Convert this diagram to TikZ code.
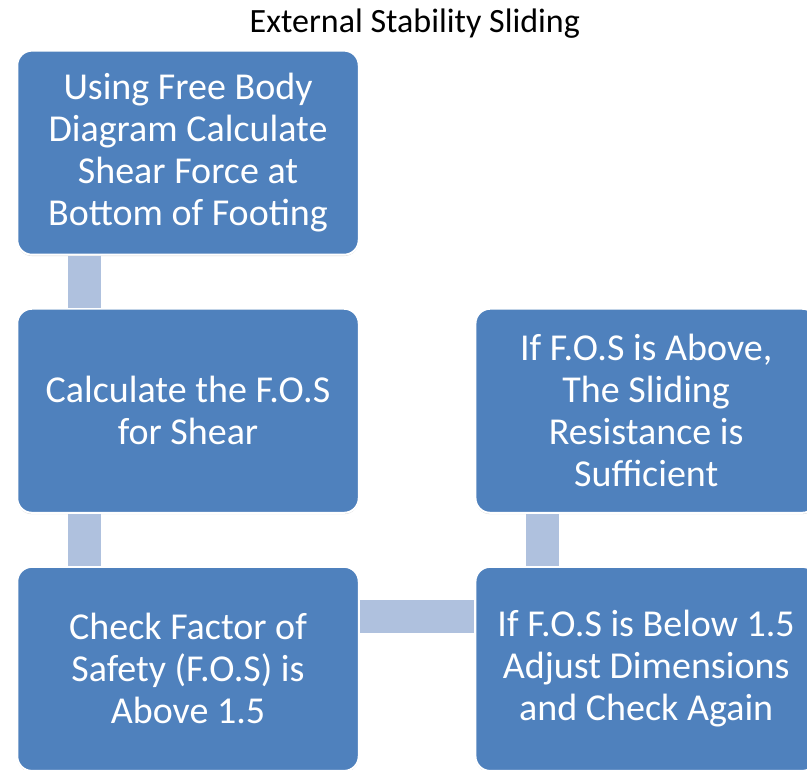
\documentclass[tikz,border=0pt]{standalone}
\usepackage{fontspec}
\setmainfont{Carlito}
\usetikzlibrary{matrix, shadows}
\definecolor{boxblue}{HTML}{4F81BD}
\definecolor{linkblue}{HTML}{AFC1DE}
\tikzset{
  stepbox/.style = {draw=white, line width=1.5pt, fill=boxblue, rounded corners=11pt,
    text=white, align=flush center, text width=226pt, minimum width=256pt, minimum height=153pt,
    font=\fontsize{28.5}{31.5}\selectfont, inner sep=0pt, anchor=center,
    drop shadow={shadow xshift=0pt, shadow yshift=-1pt, opacity=.35}},
  link/.style = {linkblue, line width=25pt}
}

\begin{document}
\begin{tikzpicture}
\useasboundingbox (0,0) rectangle (605pt,-577pt);
\node (title) at (311pt,-18pt) {\fontsize{25.5}{30}\selectfont External Stability Sliding};
\matrix (m) [matrix of nodes, nodes = stepbox, column sep = 86pt, row sep = 39pt,
  inner sep = 0pt, anchor = north west] at (12pt,-37pt) {
|(fbd)| Using Free Body Diagram Calculate Shear Force at Bottom of Footing & \\
|(calc)| Calculate the F.O.S for Shear & |(above)| If F.O.S is Above, The Sliding Resistance is Sufficient \\
|(check)| Check Factor of Safety (F.O.S) is Above 1.5 & |(below)| If F.O.S is Below 1.5 Adjust Dimensions and Check Again \\
};
\draw [link] ([xshift=51pt]fbd.south west) -- ([xshift=51pt]calc.north west);
\draw [link] ([xshift=51pt]calc.south west) -- ([xshift=51pt]check.north west);
\draw [link] ([yshift=-38pt]check.north east) -- ([yshift=-38pt]below.north west);
\draw [link] ([xshift=51pt]below.north west) -- ([xshift=51pt]above.south west);
\end{tikzpicture}
\end{document}
